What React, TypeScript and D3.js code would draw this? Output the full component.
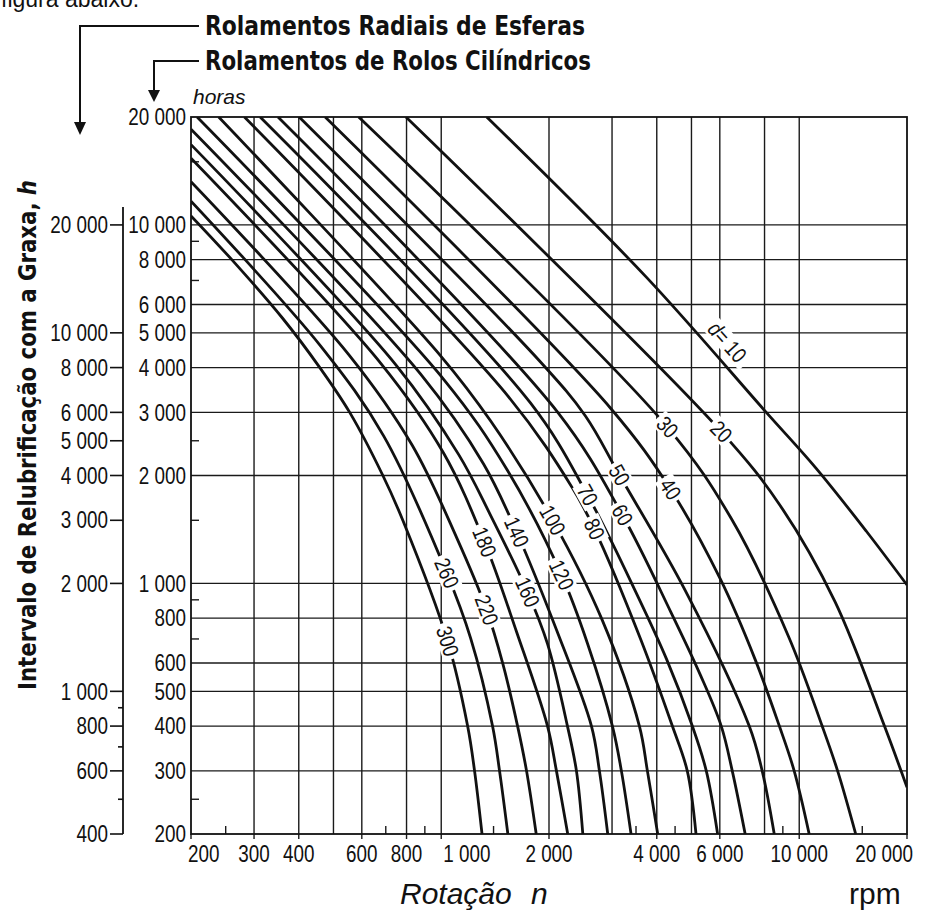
import React from 'react';
import * as d3 from 'd3';

const NARROW = "'Liberation Sans Narrow','DejaVu Sans Condensed','Liberation Sans',Arial,sans-serif";
const REG = "'Liberation Sans',Arial,sans-serif";

// ---- axis ticks ----
const rpmLabels = [200, 300, 400, 600, 800, 1000, 2000, 4000, 6000, 10000, 20000];
const rpmGrid = [300, 400, 500, 600, 800, 1000, 2000, 3000, 4000, 5000, 6000, 8000, 10000];
const rpmMinor = [250, 700, 900, 1400, 3500, 4500, 9000, 15000];
const rollerLabels = [20000, 10000, 8000, 6000, 5000, 4000, 3000, 2000, 1000, 800, 600, 500, 400, 300, 200];
const rollerGrid = [10000, 8000, 6000, 5000, 4000, 3000, 2000, 1000, 800, 600, 500, 400, 300];
const rollerMinor = [15000, 9000, 7000, 2500, 1500, 900, 700, 250];
const ballLabels = [20000, 10000, 8000, 6000, 5000, 4000, 3000, 2000, 1000, 800, 600, 400];
const ballMinor = [900, 700, 500];

// ---- curves: [rpm, hours (roller scale)] ----
const diameters = [10, 20, 30, 40, 50, 60, 70, 80, 100, 120, 140, 160, 180, 220, 260, 300];
const d10: [number, number][] = [[1340, 20000], [3740, 7150], [8090, 3000], [11150, 2094], [15400, 1398], [20000, 990]];
const d20: [number, number][] = [[797, 20000], [6056, 2650], [8844, 1650], [12596, 888], [17300, 400], [20000, 270]];
const d30: [number, number][] = [[588, 20000], [4281, 2730], [6471, 1512], [9347, 709], [11590, 400], [12800, 300], [14380, 200]];
const d40: [number, number][] = [[474, 20000], [2968, 3086], [4366, 1834], [6018, 1029], [7534, 613], [8800, 400], [9680, 300], [10660, 200]];
const d50: [number, number][] = [[401, 20000], [1894, 4146], [2528, 2932], [3146, 2006], [4806, 955], [7250, 400], [7880, 300], [8515, 200]];
const d60: [number, number][] = [[350, 20000], [2119, 2995], [3206, 1552], [4379, 832], [5297, 555], [6056, 400], [6500, 300], [7063, 200]];
const d70: [number, number][] = [[312, 20000], [1775, 3187], [2562, 1764], [3550, 916], [4260, 615], [5028, 400], [5500, 300], [5916, 200]];
const d80: [number, number][] = [[282, 20000], [1544, 3311], [2317, 1856], [2679, 1418], [3604, 700], [4422, 400], [4867, 300], [5148, 200]];
const d100: [number, number][] = [[239, 20000], [996, 4315], [1373, 2842], [2046, 1502], [2817, 790], [3577, 400], [3766, 300], [4024, 200]];
const d120: [number, number][] = [[208, 20000], [1017, 3705], [1526, 2078], [2168, 1056], [2562, 680], [3007, 400], [3186, 300], [3390, 200]];
const d140: [number, number][] = [[200, 18500], [875, 3840], [1313, 2153], [1624, 1391], [2101, 740], [2628, 400], [2766, 300], [2918, 200]];
const d160: [number, number][] = [[200, 16750], [746, 4078], [1119, 2287], [1367, 1564], [1742, 946], [1981, 678], [2252, 400], [2386, 300], [2486, 200]];
const d180: [number, number][] = [[200, 15350], [677, 4118], [1015, 2311], [1321, 1305], [1624, 732], [1981, 400], [2098, 300], [2256, 200]];
const d220: [number, number][] = [[200, 13200], [553, 4335], [829, 2433], [1105, 1340], [1339, 843], [1484, 600], [1634, 400], [1731, 300], [1842, 200]];
const d260: [number, number][] = [[200, 11650], [460, 4600], [691, 2576], [1036, 1069], [1208, 704], [1391, 400], [1455, 300], [1535, 200]];
const d300: [number, number][] = [[200, 10600], [260, 8000], [360, 5500], [458, 4000], [555, 3000], [687, 2000], [781, 1500], [1042, 690], [1185, 400], [1239, 300], [1300, 200]];
const curves = [d10, d20, d30, d40, d50, d60, d70, d80, d100, d120, d140, d160, d180, d220, d260, d300];

// label anchors [rpm, hours], same order as diameters
const labelAt: [number, number][] = [
  [6294, 4713], [6056, 2650], [4281, 2730], [4366, 1834], [3146, 2006], [3206, 1552], [2562, 1764], [2679, 1418],
  [2046, 1502], [2168, 1056], [1624, 1391], [1742, 946], [1321, 1305], [1339, 843], [1036, 1069], [1042, 690],
];

const fmt = (v: number) => (v >= 1000 ? `${Math.floor(v / 1000)} ${String(v % 1000).padStart(3, '0')}` : String(v));

const SX = 0.82;
const FS = 23;
function CText(props: { x: number; y: number; anchor?: string; children: React.ReactNode }) {
  const { x, y, anchor = 'middle', children } = props;
  return (
    <g transform={`translate(${x},${y}) scale(${SX},1)`}>
      <text textAnchor={anchor} dominantBaseline="central" fontFamily={REG} fontSize={FS} fill="#111">
        {children}
      </text>
    </g>
  );
}

export default function App() {
  const L = 191, R = 907, T = 117, B = 834;
  const x = d3.scaleLog().domain([200, 20000]).range([L, R]);
  const y = d3.scaleLog().domain([200, 20000]).range([B, T]);
  const yb = d3.scaleLog().domain([400, 40000]).range([B, T]);
  const line = d3
    .line<[number, number]>()
    .x((d) => x(d[0]))
    .y((d) => y(d[1]))
    .curve(d3.curveCatmullRom.alpha(0.5));

  const angleAt = (pts: [number, number][], n: number) => {
    const prev = [...pts].reverse().find((p) => p[0] < n * 0.97) ?? pts[0];
    const next = pts.find((p) => p[0] > n * 1.03) ?? pts[pts.length - 1];
    return (Math.atan2(y(next[1]) - y(prev[1]), x(next[0]) - x(prev[0])) * 180) / Math.PI;
  };

  const axisX = 123;
  const xLabelPos = (v: number, i: number): [number, string] => {
    if (i === 0) return [x(v) - 3, 'start'];
    if (v === 1000) return [x(v) + 2, 'start'];
    if (i === rpmLabels.length - 1) return [913, 'end'];
    return [x(v), 'middle'];
  };

  return (
    <svg width={931} height={912} style={{ position: 'absolute', left: 0, top: 0 }}>
      <defs>
        <clipPath id="plot">
          <rect x={L} y={T} width={R - L} height={B - T} />
        </clipPath>
      </defs>
      <rect width={931} height={912} fill="#fff" />

      {/* cut text on top */}
      <text x={1} y={7} fontFamily={REG} fontSize={23} fill="#111">figura abaixo.</text>

      {/* headers */}
      <text x={205} y={35} fontFamily={NARROW} fontWeight="bold" fontSize={26} textLength={380} lengthAdjust="spacingAndGlyphs" fill="#111">Rolamentos Radiais de Esferas</text>
      <text x={205} y={70} fontFamily={NARROW} fontWeight="bold" fontSize={26} textLength={386} lengthAdjust="spacingAndGlyphs" fill="#111">Rolamentos de Rolos Cilíndricos</text>
      <text x={193} y={104} fontFamily={REG} fontStyle="italic" fontSize={21} fill="#111">horas</text>
      <path d="M199,26 H80 V124" fill="none" stroke="#111" strokeWidth={2} />
      <path d="M74,122 L86,122 L80,135 Z" fill="#111" />
      <path d="M199,61 H154 V92" fill="none" stroke="#111" strokeWidth={2} />
      <path d="M148,90 L160,90 L154,102 Z" fill="#111" />

      {/* grid */}
      <g stroke="#1a1a1a" strokeWidth={1.4}>
        {rpmGrid.map((v) => (
          <line key={'gx' + v} x1={x(v)} x2={x(v)} y1={T} y2={B} />
        ))}
        {rollerGrid.map((v) => (
          <line key={'gy' + v} x1={L} x2={R} y1={y(v)} y2={y(v)} />
        ))}
        {rpmMinor.map((v) => (
          <line key={'mx' + v} x1={x(v)} x2={x(v)} y1={B} y2={B - 8} />
        ))}
        {rollerMinor.map((v) => (
          <line key={'my' + v} x1={L} x2={L + 8} y1={y(v)} y2={y(v)} />
        ))}
        {rpmLabels.map((v) => (
          <line key={'tx' + v} x1={x(v)} x2={x(v)} y1={B} y2={B + 5} />
        ))}
      </g>
      <rect x={L} y={T} width={R - L} height={B - T} fill="none" stroke="#111" strokeWidth={1.8} />

      {/* curves */}
      <g clipPath="url(#plot)" fill="none" stroke="#111" strokeWidth={2.8} strokeLinejoin="round">
        {curves.map((c, i) => (
          <path key={'c' + diameters[i]} d={line(c) ?? ''} />
        ))}
      </g>

      {/* curve labels */}
      {diameters.map((dd, i) => {
        const [n, h] = labelAt[i];
        const a = angleAt(curves[i], n);
        const txt = dd === 10 ? 'd= 10' : String(dd);
        const w = txt.length * 10.3 + 6;
        return (
          <g key={'l' + dd} transform={`translate(${x(n)},${y(h)}) rotate(${a})`}>
            <rect x={-w / 2} y={-10} width={w} height={20} fill="#fff" />
            <g transform={`scale(${SX},1)`}>
              <text textAnchor="middle" dominantBaseline="central" fontFamily={REG} fontSize={22} fill="#111">
                {dd === 10 ? (
                  <>
                    <tspan fontStyle="italic">d</tspan>= 10
                  </>
                ) : (
                  txt
                )}
              </text>
            </g>
          </g>
        );
      })}

      {/* x tick labels */}
      {rpmLabels.map((v, i) => {
        const [px, anchor] = xLabelPos(v, i);
        return (
          <CText key={'xl' + v} x={px} y={854} anchor={anchor}>
            {fmt(v)}
          </CText>
        );
      })}

      {/* inner (roller) axis labels */}
      {rollerLabels.map((v) => (
        <CText key={'yl' + v} x={L - 5} y={y(v)} anchor="end">
          {fmt(v)}
        </CText>
      ))}

      {/* outer (ball bearing) axis */}
      <line x1={axisX} x2={axisX} y1={yb(20000) - 18} y2={yb(400)} stroke="#111" strokeWidth={1.8} />
      {ballLabels.map((v) => (
        <g key={'bl' + v}>
          <line x1={axisX - 13} x2={axisX} y1={yb(v)} y2={yb(v)} stroke="#111" strokeWidth={1.6} />
          <CText x={axisX - 15} y={yb(v)} anchor="end">
            {fmt(v)}
          </CText>
        </g>
      ))}
      {ballMinor.map((v) => (
        <line key={'bm' + v} x1={axisX - 5} x2={axisX} y1={yb(v)} y2={yb(v)} stroke="#111" strokeWidth={1.6} />
      ))}

      {/* axis titles */}
      <text transform="translate(36,435) rotate(-90)" textAnchor="middle" fontFamily={NARROW} fontWeight="bold" fontSize={24} textLength={510} lengthAdjust="spacingAndGlyphs" fill="#111">
        Intervalo de Relubrificação com a Graxa, <tspan fontStyle="italic">h</tspan>
      </text>
      <text x={400} y={904} fontFamily={REG} fontStyle="italic" fontSize={30} fill="#111">Rotação</text>
      <text x={531} y={904} fontFamily={REG} fontStyle="italic" fontSize={30} fill="#111">n</text>
      <text x={849} y={904} fontFamily={REG} fontSize={30} fill="#111">rpm</text>
    </svg>
  );
}
